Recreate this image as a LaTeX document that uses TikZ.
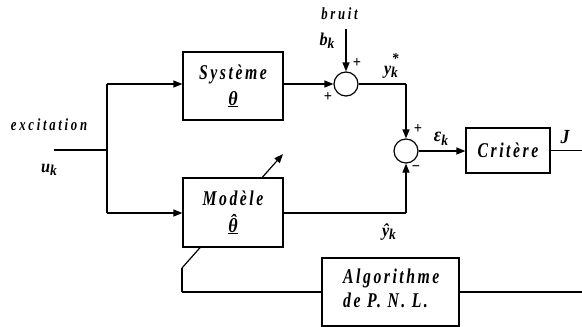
\documentclass[tikz,border=0pt]{standalone}
\usepackage{fontspec}
\setmainfont{Liberation Serif}
\newfontfamily\boxf[FakeStretch=0.75,LetterSpace=12]{Liberation Serif}
\newfontfamily\smallf[FakeStretch=0.75,LetterSpace=16]{Liberation Serif}
\newfontfamily\mathf[FakeStretch=0.9]{Liberation Serif}
\usetikzlibrary{arrows.meta}
\newcommand\sk{\raisebox{-0.22em}{\fontsize{15}{15}\selectfont k}}
\newcommand\skstar{\raisebox{-0.22em}{\fontsize{15}{15}\selectfont\rlap{\hspace{0.05em}\raisebox{0.95em}{*}}k}}
\newcommand\thhat{\ooalign{θ\cr\hidewidth\raisebox{0.2em}{ˆ}\hidewidth\cr}}
\tikzset{
  blk/.style={draw, line width=1.2pt, fill=white, inner sep=0pt},
  sumc/.style={draw, circle, line width=1.2pt, minimum size=24pt, inner sep=0pt},
  wire/.style={line width=1.2pt},
  arr/.style={line width=1.2pt, -{Triangle[length=9pt,width=7pt]}},
  boxtxt/.style={anchor=base, inner sep=0pt, font=\boxf\bfseries\itshape\fontsize{21}{24}\selectfont},
  smalltxt/.style={anchor=base, inner sep=0pt, font=\smallf\bfseries\itshape\fontsize{17}{18}\selectfont},
  mtxt/.style={anchor=base, inner sep=0pt, font=\mathf\bfseries\itshape\fontsize{18}{20}\selectfont},
  sgn/.style={inner sep=0pt, font=\mathf\bfseries\fontsize{16}{16}\selectfont},
}
\begin{document}
\begin{tikzpicture}[x=1pt,y=-1pt]
\useasboundingbox (0,0) rectangle (582,327);
% coordinates
\coordinate (in0) at (54,150);
\coordinate (jn) at (107,150);
\coordinate (jtop) at (107,84);
\coordinate (jbot) at (107,213);
\coordinate (bn) at (346,29);
\coordinate (c1) at (406,84);
\coordinate (c2) at (406,213);
\coordinate (jend) at (582,150.5);
\coordinate (a1) at (182,292);
\coordinate (a2) at (182,268);
\coordinate (atip) at (283,154);
\coordinate (rend) at (582,292);
% adjustable arrow (drawn under the Modele box)
\draw[wire] (a1) -- (a2);
\draw[arr] (a2) -- (atip);
% blocks
\node[blk, minimum width=100pt, minimum height=68pt] (sys) at (233,86) {};
\node[blk, minimum width=100pt, minimum height=69pt] (mod) at (233,212.5) {};
\node[blk, minimum width=84pt, minimum height=45pt] (crit) at (508,150.5) {};
\node[blk, minimum width=137pt, minimum height=68pt] (algo) at (390.5,292) {};
\node[sumc] (s1) at (346,84) {};
\node[sumc] (s2) at (406,151) {};
% texts in blocks
\node[boxtxt] (tsys) at (233,79) {Système};
\node[anchor=base, inner sep=0pt, font=\mathf\bfseries\itshape\fontsize{20}{24}\selectfont] (tth) at (233,105) {\underline{θ}};
\node[boxtxt] (tmod) at (233,205) {Modèle};
\node[anchor=base, inner sep=0pt, font=\mathf\bfseries\itshape\fontsize{20}{24}\selectfont] (tthh) at (233,232) {\underline{\thhat}};
\node[boxtxt] (tcrit) at (508,157) {Critère};
\node[boxtxt, anchor=base west] (talg1) at (343,283) {Algorithme};
\node[boxtxt, anchor=base west] (talg2) at (343,307) {de P. N. L.};
% connectors
\draw[wire] (in0) -- (jn);
\draw[wire] (jbot) -- (jtop);
\draw[arr] (jtop) -- (sys.west |- jtop);
\draw[arr] (jbot) -- (mod.west |- jbot);
\draw[arr] (sys.east |- s1) -- (s1.west);
\draw[arr] (bn) -- (s1.north);
\draw[wire] (s1.east) -- (c1);
\draw[arr] (c1) -- (s2.north);
\draw[wire] (mod.east |- c2) -- (c2);
\draw[arr] (c2) -- (s2.south);
\draw[arr] (s2.east) -- (crit.west |- s2);
\draw[wire] (crit.east |- jend) -- (jend);
\draw[wire] (algo.west) -- (a1);
\draw[wire] (algo.east) -- (rend);
% labels
\node[smalltxt] (lexc) at (49,130) {excitation};
\node[mtxt] (luk) at (49,172) {u\sk};
\node[smalltxt] (lbruit) at (339.5,19) {bruit};
\node[mtxt] (lbk) at (327,45) {b\sk};
\node[sgn] (p1) at (357,63) {+};
\node[sgn] (p2) at (328,97) {+};
\node[mtxt] (lystar) at (391,74) {y\skstar};
\node[sgn] (p3) at (418,129) {+};
\node[sgn] (m1) at (416,169) {−};
\node[mtxt, font=\mathf\bfseries\itshape\fontsize{20}{20}\selectfont] (leps) at (441,141.5) {ε\sk};
\node[mtxt] (lyhat) at (389,236) {ŷ\sk};
\node[mtxt, font=\mathf\bfseries\itshape\fontsize{20}{20}\selectfont] (lJ) at (565,143) {J};
\end{tikzpicture}
\end{document}
